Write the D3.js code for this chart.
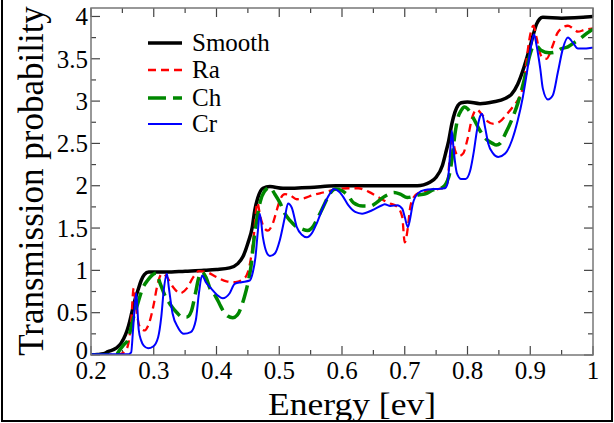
<!DOCTYPE html>
<html>
<head>
<meta charset="utf-8">
<script src="https://cdn.jsdelivr.net/npm/d3@7"></script>
<style>
  body { margin: 0; background: #fff; }
  text { font-family: "Liberation Serif", "DejaVu Serif", serif; }
</style>
</head>
<body>
<svg id="chart" width="614" height="423"></svg>
<script>
// series: [energy, transmission]
const smoothPts = [[0.2,0],[0.21,0.005],[0.22,0.015],[0.227,0.04],[0.24,0.08],[0.248,0.14],[0.255,0.24],[0.26,0.35],[0.265,0.5],[0.27,0.65],[0.275,0.77],[0.28,0.88],[0.285,0.95],[0.292,0.98],[0.32,0.98],[0.35,0.99],[0.38,1.0],[0.4,1.01],[0.421,1.03],[0.434,1.08],[0.442,1.16],[0.45,1.32],[0.457,1.51],[0.461,1.71],[0.466,1.86],[0.474,1.97],[0.485,1.99],[0.506,1.97],[0.549,1.98],[0.59,2.0],[0.7,2.0],[0.72,2.0],[0.73,2.01],[0.74,2.04],[0.75,2.1],[0.76,2.24],[0.765,2.38],[0.77,2.53],[0.775,2.73],[0.78,2.87],[0.785,2.95],[0.79,2.98],[0.8,2.99],[0.82,2.97],[0.84,2.99],[0.86,3.03],[0.87,3.08],[0.88,3.2],[0.89,3.4],[0.895,3.52],[0.9,3.65],[0.905,3.79],[0.91,3.91],[0.915,3.97],[0.92,3.99],[0.95,3.98],[1.0,4.0]];

const raPts = [[0.2,0],[0.24,0],[0.25,0.02],[0.255,0.05],[0.26,0.15],[0.264,0.4],[0.268,0.79],[0.272,0.55],[0.276,0.37],[0.28,0.31],[0.286,0.29],[0.29,0.33],[0.294,0.41],[0.3,0.6],[0.305,0.8],[0.31,0.93],[0.314,0.96],[0.32,0.93],[0.331,0.8],[0.342,0.73],[0.353,0.79],[0.363,0.92],[0.372,0.99],[0.384,0.98],[0.4,0.92],[0.416,0.87],[0.43,0.86],[0.445,0.91],[0.45,0.98],[0.455,1.15],[0.46,1.45],[0.465,1.8],[0.47,1.63],[0.476,1.5],[0.482,1.47],[0.49,1.56],[0.496,1.71],[0.501,1.83],[0.509,1.9],[0.517,1.89],[0.528,1.84],[0.538,1.85],[0.554,1.89],[0.57,1.92],[0.586,1.95],[0.61,1.97],[0.626,1.97],[0.642,1.93],[0.657,1.87],[0.673,1.8],[0.688,1.75],[0.696,1.63],[0.7,1.33],[0.705,1.51],[0.708,1.71],[0.713,1.85],[0.721,1.91],[0.743,1.95],[0.759,1.97],[0.767,2.0],[0.772,2.35],[0.776,2.55],[0.78,2.42],[0.786,2.35],[0.793,2.38],[0.8,2.55],[0.808,2.82],[0.815,2.9],[0.822,2.85],[0.832,2.76],[0.842,2.73],[0.852,2.76],[0.862,2.84],[0.872,2.93],[0.88,3.01],[0.886,3.1],[0.891,3.28],[0.896,3.6],[0.901,3.82],[0.905,3.89],[0.91,3.75],[0.915,3.58],[0.92,3.51],[0.926,3.5],[0.931,3.56],[0.936,3.66],[0.943,3.8],[0.95,3.86],[0.96,3.89],[0.968,3.86],[0.976,3.82],[0.986,3.84],[1.0,3.86]];

const chPts = [[0.2,0],[0.24,0.01],[0.246,0.06],[0.252,0.12],[0.259,0.18],[0.264,0.33],[0.268,0.45],[0.273,0.57],[0.283,0.8],[0.29,0.88],[0.297,0.94],[0.304,0.97],[0.31,0.85],[0.318,0.7],[0.326,0.6],[0.337,0.5],[0.345,0.45],[0.353,0.45],[0.36,0.52],[0.367,0.75],[0.372,0.92],[0.377,0.98],[0.383,0.92],[0.39,0.78],[0.398,0.7],[0.405,0.6],[0.41,0.53],[0.418,0.46],[0.426,0.44],[0.433,0.47],[0.44,0.58],[0.445,0.7],[0.45,0.85],[0.455,1.05],[0.46,1.38],[0.465,1.63],[0.47,1.82],[0.476,1.93],[0.485,1.98],[0.493,1.9],[0.501,1.8],[0.509,1.67],[0.517,1.59],[0.525,1.53],[0.536,1.49],[0.545,1.47],[0.552,1.5],[0.562,1.63],[0.57,1.75],[0.581,1.91],[0.59,1.96],[0.6,1.94],[0.61,1.88],[0.618,1.8],[0.633,1.76],[0.645,1.76],[0.655,1.8],[0.665,1.86],[0.675,1.9],[0.683,1.92],[0.693,1.9],[0.704,1.86],[0.712,1.87],[0.721,1.89],[0.735,1.91],[0.745,1.95],[0.76,1.98],[0.77,2.1],[0.775,2.3],[0.78,2.61],[0.785,2.81],[0.79,2.89],[0.795,2.93],[0.8,2.91],[0.81,2.79],[0.82,2.65],[0.83,2.55],[0.84,2.5],[0.846,2.48],[0.852,2.5],[0.86,2.61],[0.87,2.77],[0.88,2.97],[0.89,3.24],[0.9,3.56],[0.905,3.65],[0.91,3.65],[0.917,3.6],[0.93,3.57],[0.94,3.58],[0.95,3.62],[0.96,3.64],[0.97,3.69],[0.98,3.74],[0.99,3.8],[1.0,3.85]];

const crPts = [[0.2,0.01],[0.26,0.01],[0.264,0.03],[0.267,0.3],[0.27,0.6],[0.272,0.73],[0.274,0.55],[0.276,0.3],[0.28,0.17],[0.284,0.11],[0.291,0.08],[0.299,0.1],[0.307,0.21],[0.312,0.45],[0.316,0.77],[0.321,0.96],[0.324,0.8],[0.33,0.49],[0.339,0.32],[0.348,0.25],[0.359,0.27],[0.367,0.41],[0.372,0.73],[0.377,0.94],[0.383,0.86],[0.391,0.79],[0.401,0.71],[0.41,0.67],[0.421,0.73],[0.429,0.84],[0.44,0.86],[0.453,0.88],[0.458,0.98],[0.462,1.15],[0.466,1.47],[0.469,1.67],[0.474,1.39],[0.48,1.21],[0.485,1.17],[0.493,1.2],[0.501,1.36],[0.509,1.63],[0.514,1.79],[0.52,1.74],[0.528,1.51],[0.536,1.42],[0.544,1.39],[0.552,1.44],[0.56,1.56],[0.57,1.75],[0.581,1.91],[0.587,1.96],[0.6,1.89],[0.61,1.77],[0.621,1.69],[0.632,1.67],[0.648,1.71],[0.664,1.77],[0.668,1.78],[0.677,1.76],[0.688,1.77],[0.696,1.73],[0.7,1.63],[0.705,1.51],[0.708,1.59],[0.713,1.79],[0.721,1.91],[0.732,1.95],[0.748,1.96],[0.764,1.97],[0.768,2.02],[0.772,2.35],[0.775,2.65],[0.778,2.42],[0.783,2.15],[0.79,2.08],[0.797,2.08],[0.804,2.17],[0.81,2.4],[0.815,2.65],[0.82,2.82],[0.823,2.85],[0.828,2.69],[0.833,2.5],[0.841,2.38],[0.849,2.34],[0.86,2.38],[0.871,2.54],[0.88,2.77],[0.888,3.04],[0.896,3.4],[0.902,3.68],[0.906,3.79],[0.91,3.66],[0.916,3.38],[0.92,3.15],[0.928,3.02],[0.936,3.07],[0.944,3.34],[0.952,3.62],[0.96,3.75],[0.968,3.69],[0.976,3.62],[0.987,3.62],[0.998,3.63],[1.0,3.63]];

const seriesNames = ["Smooth", "Ra", "Ch", "Cr"];
const xTickValues = [0.2, 0.3, 0.4, 0.5, 0.6, 0.7, 0.8, 0.9, 1];
const yTickValues = [0, 0.5, 1, 1.5, 2, 2.5, 3, 3.5, 4];
const xTickLabels = ["0.2", "0.3", "0.4", "0.5", "0.6", "0.7", "0.8", "0.9", "1"];
const yTickLabels = ["0", "0.5", "1", "1.5", "2", "2.5", "3", "3.5", "4"];

const styles = [
  { color: "#000000", width: 3.5, dash: null },
  { color: "#ff0000", width: 2.3, dash: "8,5" },
  { color: "#008800", width: 3.5, dash: "18,7" },
  { color: "#0000ff", width: 2, dash: null }
];
const allSeries = [smoothPts, raPts, chPts, crPts];
const serif = "Liberation Serif, DejaVu Serif, serif";

const svg = d3.select("#chart");
const plotLeft = 91, plotRight = 593, plotTop = 8, plotBottom = 355;

const x = d3.scaleLinear().domain([0.2, 1]).range([plotLeft, plotRight]);
const y = d3.scaleLinear().domain([0, 4.1]).range([plotBottom, plotTop]);

// outer border of the figure
svg.append("path")
  .attr("d", "M2,0 V421 H612 V0")
  .attr("fill", "none").attr("stroke", "#000").attr("stroke-width", 2);

// minor / major ticks on all four sides, pointing inward
const minorX = d3.range(0.25, 1, 0.1);
const minorY = d3.range(0.25, 4, 0.5);
const tickG = svg.append("g").attr("stroke", "#444").attr("stroke-width", 1.2);
xTickValues.forEach(v => {
  tickG.append("line").attr("x1", x(v)).attr("x2", x(v)).attr("y1", plotBottom).attr("y2", plotBottom - 9);
  tickG.append("line").attr("x1", x(v)).attr("x2", x(v)).attr("y1", plotTop).attr("y2", plotTop + 9);
});
minorX.forEach(v => {
  tickG.append("line").attr("x1", x(v)).attr("x2", x(v)).attr("y1", plotBottom).attr("y2", plotBottom - 5);
  tickG.append("line").attr("x1", x(v)).attr("x2", x(v)).attr("y1", plotTop).attr("y2", plotTop + 5);
});
yTickValues.forEach(v => {
  tickG.append("line").attr("y1", y(v)).attr("y2", y(v)).attr("x1", plotLeft).attr("x2", plotLeft + 9);
  tickG.append("line").attr("y1", y(v)).attr("y2", y(v)).attr("x1", plotRight).attr("x2", plotRight - 9);
});
minorY.forEach(v => {
  tickG.append("line").attr("y1", y(v)).attr("y2", y(v)).attr("x1", plotLeft).attr("x2", plotLeft + 5);
  tickG.append("line").attr("y1", y(v)).attr("y2", y(v)).attr("x1", plotRight).attr("x2", plotRight - 5);
});

// tick labels
svg.append("g").selectAll("text").data(xTickValues).join("text")
  .attr("x", d => x(d)).attr("y", 379)
  .attr("text-anchor", "middle").attr("font-family", serif).attr("font-size", 25).attr("fill", "#000")
  .text((d, i) => xTickLabels[i]);
// the zero label sits a little higher, as in the original
svg.append("g").selectAll("text").data(yTickValues).join("text")
  .attr("x", 88).attr("y", d => y(d) - (d === 0 ? 5 : 0)).attr("dy", "0.35em")
  .attr("text-anchor", "end").attr("font-family", serif).attr("font-size", 25).attr("fill", "#000")
  .text((d, i) => yTickLabels[i]);

// curves
svg.append("clipPath").attr("id", "clip")
  .append("rect").attr("x", plotLeft).attr("y", plotTop)
  .attr("width", plotRight - plotLeft).attr("height", plotBottom - plotTop);

const line = d3.line().x(d => x(d[0])).y(d => y(d[1])).curve(d3.curveMonotoneX);
const curves = svg.append("g").attr("clip-path", "url(#clip)");
allSeries.forEach((pts, i) => {
  curves.append("path")
    .datum(pts)
    .attr("d", line)
    .attr("fill", "none")
    .attr("stroke", styles[i].color)
    .attr("stroke-width", styles[i].width)
    .attr("stroke-dasharray", styles[i].dash)
    .attr("stroke-linejoin", "round");
});

// plot frame
svg.append("rect")
  .attr("x", plotLeft).attr("y", plotTop)
  .attr("width", plotRight - plotLeft).attr("height", plotBottom - plotTop)
  .attr("fill", "none").attr("stroke", "#777").attr("stroke-width", 1.5);

// legend
const legendRows = [43, 70, 98, 124];
const legend = svg.append("g");
seriesNames.forEach((name, i) => {
  legend.append("line")
    .attr("x1", 148).attr("x2", 182).attr("y1", legendRows[i]).attr("y2", legendRows[i])
    .attr("stroke", styles[i].color)
    .attr("stroke-width", styles[i].width)
    .attr("stroke-dasharray", styles[i].dash);
  legend.append("text")
    .attr("x", 192).attr("y", legendRows[i] + 8)
    .attr("font-family", serif).attr("font-size", 25).attr("fill", "#000")
    .text(name);
});

// axis titles
svg.append("text")
  .attr("x", 352).attr("y", 415)
  .attr("text-anchor", "middle").attr("font-family", serif).attr("font-size", 31)
  .attr("textLength", 168).attr("lengthAdjust", "spacingAndGlyphs")
  .text("Energy [ev]");
svg.append("text")
  .attr("transform", "translate(43,181) rotate(-90)")
  .attr("text-anchor", "middle").attr("font-family", serif).attr("font-size", 35)
  .text("Transmission probability");
</script>
</body>
</html>
